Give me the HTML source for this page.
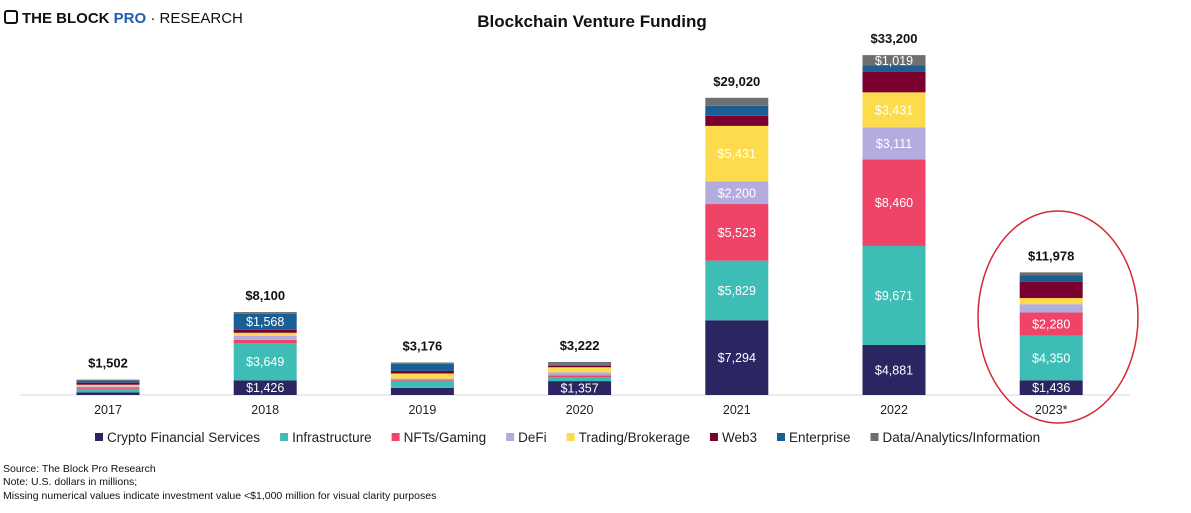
<!DOCTYPE html>
<html><head><meta charset="utf-8"><style>
body{margin:0;background:#fff;width:1191px;height:508px;overflow:hidden;font-family:"Liberation Sans",sans-serif}
svg text{font-family:"Liberation Sans",sans-serif}
</style></head><body>
<svg id="c" width="1191" height="508">
<g>
<rect x="5" y="11" width="12" height="12" fill="none" stroke="#111" stroke-width="2" rx="2"/>
<text x="22" y="23" font-size="15" font-weight="bold" fill="#111">THE BLOCK <tspan fill="#1f5bb5">PRO</tspan><tspan font-weight="normal"> · RESEARCH</tspan></text>
</g>
<text x="592" y="27" font-size="17" font-weight="bold" text-anchor="middle" fill="#111">Blockchain Venture Funding</text>
<line x1="20" y1="395" x2="1130" y2="395" stroke="#d9d9d9"/>
<g id="bars"></g>
<ellipse cx="1058" cy="317" rx="80" ry="106" fill="none" stroke="#d42a35" stroke-width="1.5"/>
<g id="legend"></g>
<text x="3" y="472" font-size="10.5" fill="#111">Source: The Block Pro Research</text>
<text x="3" y="485" font-size="10.5" fill="#111">Note: U.S. dollars in millions;</text>
<text x="3" y="499" font-size="10.5" fill="#111">Missing numerical values indicate investment value &lt;$1,000 million for visual clarity purposes</text>
</svg>
<script>
const years=["2017","2018","2019","2020","2021","2022","2023*"];
const seriesNames=["Crypto Financial Services","Infrastructure","NFTs/Gaming","DeFi","Trading/Brokerage","Web3","Enterprise","Data/Analytics/Information"];
const cfs=[250,1426,700,1357,7294,4881,1436];
const infra=[350,3649,700,400,5829,9671,4350];
const nft=[150,300,100,150,5523,8460,2280];
const defi=[100,400,100,300,2200,3111,800];
const trading=[150,300,500,500,5431,3431,600];
const web3=[200,300,250,150,990,1990,1600];
const enterprise=[200,1568,700,100,980,627,600];
const dataInfo=[102,157,126,265,773,1019,312];
const totals=["$1,502","$8,100","$3,176","$3,222","$29,020","$33,200","$11,978"];
const colors=["#2b2561","#3dbdb5","#ef4468","#b3acdf","#fcdc4d","#7a0030","#1a5f93","#6f6f6f"];
const series=[cfs,infra,nft,defi,trading,web3,enterprise,dataInfo];
const NS="http://www.w3.org/2000/svg";
const base=395,scale=340/33200,x0=108,step=157.2,bw=63;
const yS=v=>v*scale, xS=i=>x0+i*step;
const fmt=v=>"$"+v.toLocaleString("en-US");
const g=document.getElementById("bars");
years.forEach((yr,i)=>{
 let y=base;
 series.forEach((s,k)=>{
  const h=yS(s[i]); y-=h;
  const r=document.createElementNS(NS,"rect");
  r.setAttribute("x",xS(i)-bw/2);r.setAttribute("y",y);r.setAttribute("width",bw);r.setAttribute("height",h);r.setAttribute("fill",colors[k]);
  
  
  g.appendChild(r);
  if(s[i]>=1000&&k!==5){
   const t=document.createElementNS(NS,"text");
   t.setAttribute("x",xS(i));t.setAttribute("y",y+h/2+4.5);t.setAttribute("text-anchor","middle");t.setAttribute("font-size","12.5");t.setAttribute("fill","#fff");
   t.textContent=fmt(s[i]);
   
   
   g.appendChild(t);
  }
 });
 const t=document.createElementNS(NS,"text");
 t.setAttribute("x",xS(i));t.setAttribute("y",y-12);t.setAttribute("text-anchor","middle");t.setAttribute("font-size","13");t.setAttribute("font-weight","bold");t.setAttribute("fill","#111");
 t.textContent=totals[i];
 
 
 g.appendChild(t);
 const a=document.createElementNS(NS,"text");
 a.setAttribute("x",xS(i));a.setAttribute("y",414);a.setAttribute("text-anchor","middle");a.setAttribute("font-size","12.5");a.setAttribute("fill","#222");
 a.textContent=yr;
 
 
 g.appendChild(a);
});
const lg=document.getElementById("legend");
let lx=95;
seriesNames.forEach((n,k)=>{
 const r=document.createElementNS(NS,"rect");
 r.setAttribute("x",lx);r.setAttribute("y",433);r.setAttribute("width",8);r.setAttribute("height",8);r.setAttribute("fill",colors[k]);
 
 
 lg.appendChild(r);
 const t=document.createElementNS(NS,"text");
 t.setAttribute("x",lx+12);t.setAttribute("y",442);t.setAttribute("font-size","13.5");t.setAttribute("fill","#222");
 t.textContent=n;
 
 
 lg.appendChild(t);
 lx+=12+t.getComputedTextLength()+20;
});
</script>
</body></html>
